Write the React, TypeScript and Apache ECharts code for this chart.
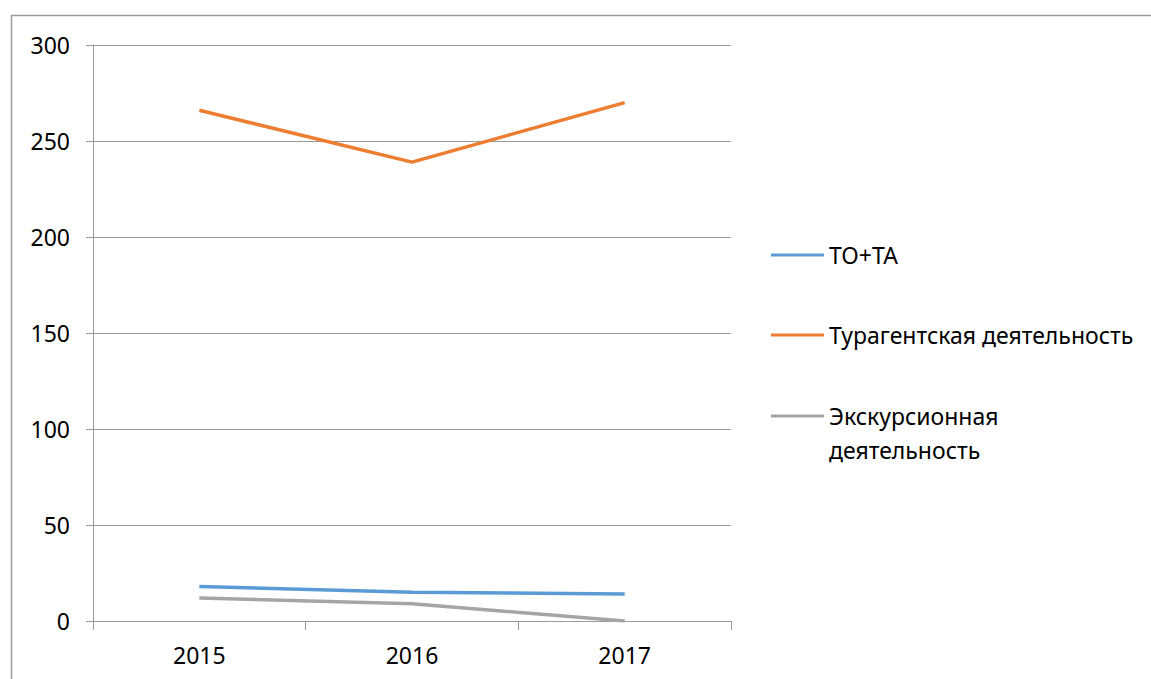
import React, { useEffect, useRef } from "react";
import * as echarts from "echarts";

const categories = ["2015", "2016", "2017"];
const seriesNames = ["ТО+ТА", "Турагентская деятельность", "Экскурсионная деятельность"];
const toTa = [18, 15, 14];
const turAgent = [266, 239, 270];
const excursion = [12, 9, 0];
const colors = ["#5B9BD5", "#ED7D31", "#A5A5A5"];

const FONT = "'Noto Sans', sans-serif";
const FS = 23;

export default function App() {
  const ref = useRef<HTMLDivElement>(null);
  useEffect(() => {
    document.body.style.margin = "0";
    const chart = echarts.init(ref.current!, null, { renderer: "svg" });
    const legendBase = {
      orient: "vertical",
      left: 771,
      padding: 0,
      itemWidth: 53,
      itemHeight: 14,
      icon: "path://M0,5.5 L53,5.5 L53,8.5 L0,8.5 Z",
      textStyle: { fontFamily: FONT, fontSize: FS, color: "#000", lineHeight: 34 },
      selectedMode: false,
    };
    chart.setOption({
      animation: false,
      color: colors,
      textStyle: { fontFamily: FONT },
      graphic: [
        {
          type: "rect",
          shape: { x: 11.5, y: 15.5, width: 1300, height: 800 },
          style: { fill: "none", stroke: "#9a9a9a", lineWidth: 1.5 },
          silent: true,
        },
      ],
      legend: [
        { ...legendBase, top: 238, data: [seriesNames[0]] },
        { ...legendBase, top: 318, data: [seriesNames[1]] },
        {
          ...legendBase,
          top: 365,
          data: [seriesNames[2]],
          formatter: () => "\nЭкскурсионная\nдеятельность",
        },
      ],
      grid: { left: 93, right: 420, top: 45, bottom: 58, containLabel: false },
      xAxis: {
        type: "category",
        data: categories,
        boundaryGap: true,
        axisLine: { lineStyle: { color: "#9a9a9a", width: 1 } },
        axisTick: { show: true, length: 9, lineStyle: { color: "#9a9a9a" } },
        axisLabel: { color: "#000", fontSize: FS, fontFamily: FONT, margin: 22 },
        splitLine: { show: false },
      },
      yAxis: {
        type: "value",
        min: 0,
        max: 300,
        interval: 50,
        axisLine: { show: true, lineStyle: { color: "#9a9a9a", width: 1 } },
        axisTick: { show: true, length: 7, lineStyle: { color: "#9a9a9a" } },
        axisLabel: { color: "#000", fontSize: FS, fontFamily: FONT, margin: 23 },
        splitLine: { show: true, lineStyle: { color: "#9a9a9a", width: 1 } },
      },
      series: [
        { name: seriesNames[0], type: "line", data: toTa, symbol: "none", lineStyle: { width: 3.5, color: colors[0] } },
        { name: seriesNames[1], type: "line", data: turAgent, symbol: "none", lineStyle: { width: 3.5, color: colors[1] } },
        { name: seriesNames[2], type: "line", data: excursion, symbol: "none", lineStyle: { width: 3.5, color: colors[2] } },
      ],
    });
    return () => chart.dispose();
  }, []);
  return (
    <div
      ref={ref}
      style={{ position: "fixed", left: 0, top: 0, width: 1151, height: 679, background: "#fff" }}
    />
  );
}
